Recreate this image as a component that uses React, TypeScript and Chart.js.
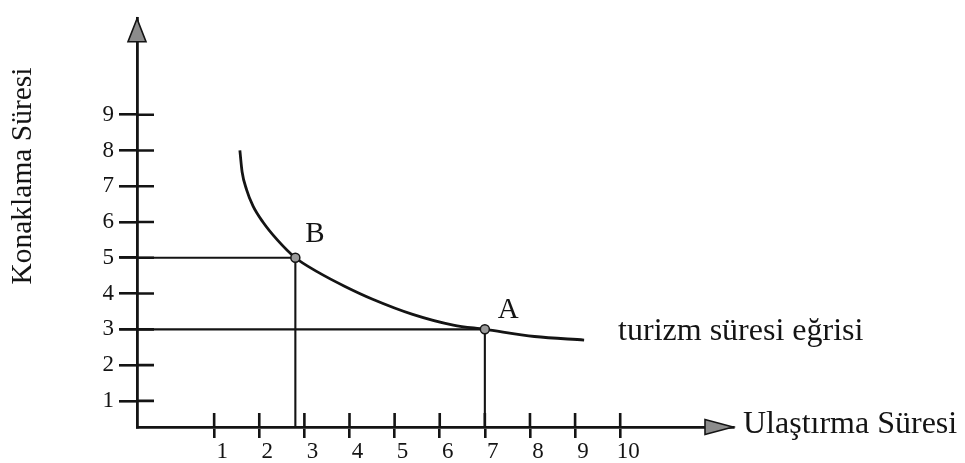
import React, { useEffect, useRef } from "react";
import { Chart, registerables } from "chart.js";

Chart.register(...registerables);

// ---- data ----
const X_TICKS = [1, 2, 3, 4, 5, 6, 7, 8, 9, 10];
const Y_TICKS = [1, 2, 3, 4, 5, 6, 7, 8, 9];
const CURVE_X = [1.57, 1.62, 1.72, 1.86, 2.08, 2.4, 2.8, 3.3, 3.9, 4.5, 5.4, 6.3, 7.0, 8.1, 9.2];
const CURVE_Y = [8.0, 7.4, 6.9, 6.45, 6.0, 5.5, 5.0, 4.6, 4.2, 3.85, 3.42, 3.12, 3.0, 2.8, 2.7];
const POINT_LABELS = ["B", "A"];
const POINT_X = [2.8, 7];
const POINT_Y = [5, 3];
const X_MIN = -0.71;
const X_MAX = 12.5;
const Y_MIN = 0.27;
const Y_MAX = 11.68;
const GUIDE_LEFT = -1.1;
const X_TITLE = "Ulaştırma Süresi";
const Y_TITLE = "Konaklama Süresi";
const CURVE_LABEL = "turizm süresi eğrisi";

const INK = "#141414";
const SERIF = "'Liberation Serif', 'Times New Roman', serif";

const decor = {
  id: "decor",
  afterDraw(chart: any) {
    const { ctx } = chart;
    const x = chart.scales.x;
    const y = chart.scales.y;
    const ax = x.getPixelForValue(X_MIN);
    const ay = y.getPixelForValue(Y_MIN);
    ctx.save();
    ctx.strokeStyle = INK;
    ctx.lineWidth = 2.6;
    ctx.lineCap = "butt";
    // inner halves of the crossing tick marks
    ctx.beginPath();
    for (const v of Y_TICKS) {
      const py = y.getPixelForValue(v);
      ctx.moveTo(ax, py);
      ctx.lineTo(ax + 17, py);
    }
    for (const v of X_TICKS) {
      const px = x.getPixelForValue(v);
      ctx.moveTo(px, ay);
      ctx.lineTo(px, ay - 14);
    }
    ctx.stroke();

    // arrowheads
    ctx.fillStyle = "#8c8c8c";
    ctx.lineWidth = 1.6;
    const top = y.getPixelForValue(Y_MAX);
    ctx.beginPath();
    ctx.moveTo(ax, top);
    ctx.lineTo(ax - 9, top + 23);
    ctx.lineTo(ax + 9, top + 23);
    ctx.closePath();
    ctx.fill();
    ctx.stroke();
    const right = x.getPixelForValue(X_MAX);
    ctx.beginPath();
    ctx.moveTo(right, ay);
    ctx.lineTo(right - 28, ay - 7.5);
    ctx.lineTo(right - 28, ay + 7.5);
    ctx.closePath();
    ctx.fill();
    ctx.stroke();

    // texts
    ctx.fillStyle = INK;
    ctx.font = `32px ${SERIF}`;
    ctx.textBaseline = "alphabetic";
    ctx.textAlign = "left";
    ctx.fillText(X_TITLE, right + 10, ay + 6);

    const endX = x.getPixelForValue(CURVE_X[CURVE_X.length - 1]);
    const endY = y.getPixelForValue(CURVE_Y[CURVE_Y.length - 1]);
    ctx.fillText(CURVE_LABEL, endX + 34, endY);

    ctx.font = `29px ${SERIF}`;
    POINT_LABELS.forEach((lab, i) => {
      const px = x.getPixelForValue(POINT_X[i]);
      const py = y.getPixelForValue(POINT_Y[i]);
      const dx = i === 0 ? 10 : 13;
      const dy = i === 0 ? -16 : -11;
      ctx.fillText(lab, px + dx, py + dy);
    });

    ctx.save();
    ctx.font = `29.5px ${SERIF}`;
    ctx.translate(23, 176);
    ctx.rotate(-Math.PI / 2);
    ctx.textAlign = "center";
    ctx.textBaseline = "middle";
    ctx.fillText(Y_TITLE, 0, 0);
    ctx.restore();

    ctx.restore();
  },
};

export default function App() {
  const ref = useRef<HTMLCanvasElement | null>(null);

  useEffect(() => {
    if (!ref.current) return;
    const curve = CURVE_X.map((v, i) => ({ x: v, y: CURVE_Y[i] }));
    const guides = POINT_X.map((px, i) => ({
      type: "line",
      data: [
        { x: GUIDE_LEFT, y: POINT_Y[i] },
        { x: px, y: POINT_Y[i] },
        { x: px, y: Y_MIN },
      ],
      borderColor: INK,
      borderWidth: 2.1,
      pointRadius: 0,
      tension: 0,
      clip: false,
      order: 2,
    }));
    const chart = new Chart(ref.current, {
      type: "line",
      data: {
        datasets: [
          {
            data: curve,
            borderColor: INK,
            borderWidth: 2.8,
            pointRadius: 0,
            cubicInterpolationMode: "monotone",
            fill: false,
            order: 1,
          } as any,
          ...(guides as any[]),
          {
            data: POINT_X.map((v, i) => ({ x: v, y: POINT_Y[i] })),
            showLine: false,
            pointRadius: 4.5,
            pointBackgroundColor: "#9a9a9a",
            pointBorderColor: INK,
            pointBorderWidth: 1.5,
            order: 0,
          } as any,
        ],
      },
      options: {
        responsive: false,
        animation: false,
        layout: { padding: { top: 5, right: 232, left: 0, bottom: 0 } },
        plugins: { legend: { display: false }, tooltip: { enabled: false } },
        scales: {
          x: {
            type: "linear",
            position: "bottom",
            min: X_MIN,
            max: X_MAX,
            afterBuildTicks: (s: any) => {
              s.ticks = X_TICKS.map((v) => ({ value: v }));
            },
            afterFit: (s: any) => {
              s.height = 36;
            },
            grid: {
              drawOnChartArea: false,
              drawTicks: true,
              tickLength: 11,
              color: INK,
              lineWidth: 2.6,
            },
            border: { display: true, color: INK, width: 2.8 },
            ticks: {
              color: INK,
              font: { family: SERIF, size: 23 },
              padding: 0,
              labelOffset: 8,
              maxRotation: 0,
              callback: (v: any) => String(v),
            },
          },
          y: {
            type: "linear",
            position: "left",
            min: Y_MIN,
            max: Y_MAX,
            afterBuildTicks: (s: any) => {
              s.ticks = Y_TICKS.map((v) => ({ value: v }));
            },
            afterFit: (s: any) => {
              s.width = 137;
            },
            grid: {
              drawOnChartArea: false,
              drawTicks: true,
              tickLength: 18,
              color: INK,
              lineWidth: 2.6,
            },
            border: { display: true, color: INK, width: 2.8 },
            ticks: {
              color: INK,
              font: { family: SERIF, size: 23 },
              padding: 5,
              callback: (v: any) => String(v),
            },
          },
        },
      } as any,
      plugins: [decor],
    });
    return () => chart.destroy();
  }, []);

  return (
    <div style={{ position: "absolute", left: 0, top: 0, width: 965, height: 463, background: "#fff" }}>
      <canvas ref={ref} width={965} height={463} style={{ display: "block" }} />
    </div>
  );
}
